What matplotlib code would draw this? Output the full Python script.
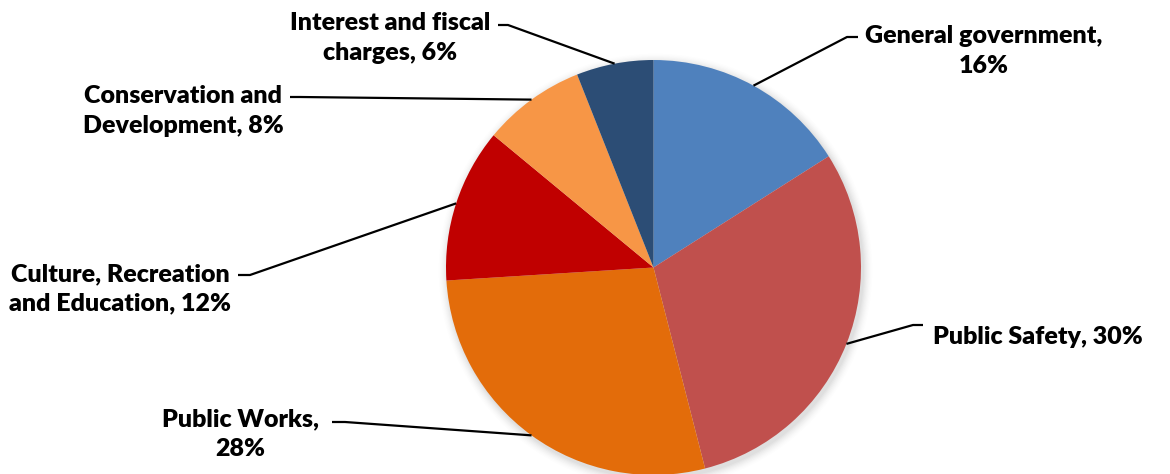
import numpy as np
import matplotlib.pyplot as plt

# ===================== #
#         Data          #
# ===================== #

categories = [
    "General government",
    "Public Safety",
    "Public Works",
    "Culture, Recreation\nand Education",
    "Conservation and\nDevelopment",
    "Interest and fiscal\ncharges",
]
shares = [16, 30, 28, 12, 8, 6]
label_text = [
    "General government,\n16%",
    "Public Safety, 30%",
    "Public Works,\n28%",
    "Culture, Recreation\nand Education, 12%",
    "Conservation and\nDevelopment, 8%",
    "Interest and fiscal\ncharges, 6%",
]
colors = ["#4F81BD", "#C0504D", "#E36C0A", "#C00000", "#F79646", "#2C4D75"]

# ===================== #
#        Layout         #
# ===================== #

W, H = 1170, 474
cx, cy, r = 653.5, H - 267.5, 207.5

# label centre, elbow point, end of horizontal tick (pixels, y measured up)
label_pos = [(984, H - 51), (933, H - 337), (240, H - 434),
             (120, H - 289), (183, H - 111), (390, H - 38)]
label_ha = ["center", "left", "center", "center", "center", "center"]
elbows = [((847, H - 37), (858, H - 37)),
          ((913, H - 325), (923, H - 325)),
          ((345, H - 422), (332, H - 422)),
          ((250, H - 275), (238, H - 275)),
          ((300, H - 97), (290, H - 97)),
          ((508, H - 25), (498, H - 25))]

plt.rcParams['font.family'] = ['Lato', 'DejaVu Sans']

fig = plt.figure(figsize=(W / 100, H / 100), dpi=100)
ax = fig.add_axes([0, 0, 1, 1])

# soft shadow around the pie
for i, a in enumerate(np.linspace(0.05, 0.012, 8)):
    ax.add_patch(plt.Circle((cx + 2, cy - 3), r + 1 + i * 1.2, color="black",
                            alpha=a * 0.5, lw=0, zorder=0))

wedges, _ = ax.pie(shares, colors=colors, startangle=90, counterclock=False,
                   center=(cx, cy), radius=r, wedgeprops=dict(linewidth=0))
for w in wedges:
    w.set_zorder(2)

for w, txt, (lx, ly), ha, (elb, end) in zip(wedges, label_text, label_pos,
                                            label_ha, elbows):
    mid = np.deg2rad((w.theta1 + w.theta2) / 2)
    ex, ey = cx + r * np.cos(mid), cy + r * np.sin(mid)
    ax.plot([ex, elb[0], end[0]], [ey, elb[1], end[1]], color="black",
            lw=1.6, zorder=3, solid_capstyle="butt")
    ax.text(lx, ly, txt, ha=ha, va="center", multialignment="center",
            fontsize=18, fontweight="heavy", color="black", linespacing=1.42)

ax.set_xlim(0, W)
ax.set_ylim(0, H)
ax.set_aspect("equal")
ax.axis("off")

fig.savefig("out.png", dpi=100)
